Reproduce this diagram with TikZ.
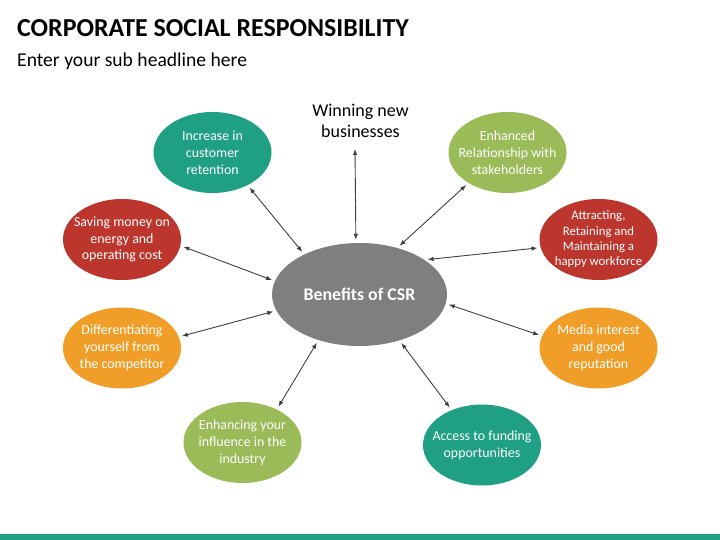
\documentclass[tikz,border=0pt]{standalone}
\usepackage{fontspec}
\setmainfont{Carlito}
\usetikzlibrary{arrows.meta,shapes.geometric}
\definecolor{cteal}{RGB}{31,160,132}
\definecolor{cred}{RGB}{188,54,46}
\definecolor{cgreen}{RGB}{155,187,89}
\definecolor{corange}{RGB}{241,158,41}
\definecolor{cgray}{RGB}{127,127,127}
\definecolor{cline}{RGB}{64,64,64}
\tikzset{
  bubble/.style={ellipse, draw=none, inner xsep=-25pt, inner ysep=-20pt, minimum width=118pt, minimum height=81pt,
    text=white, align=center, font=\fontsize{13.9}{16.8}\selectfont},
  hub/.style={ellipse, fill=cgray, inner xsep=-25pt, inner ysep=-20pt, minimum width=175pt, minimum height=103pt,
    text=white, font=\fontsize{17.8}{21}\selectfont\bfseries},
  conn/.style={draw=cline, line width=0.9pt, {Latex[length=6pt,width=4.5pt]}-{Latex[length=6pt,width=4.5pt]},
    shorten <=3pt, shorten >=3pt},
}
\begin{document}
\begin{tikzpicture}[x=1pt,y=-1pt]
\useasboundingbox (0,0) rectangle (720,540);
\fill[white] (0,0) rectangle (720,540);
\fill[cteal] (0,534) rectangle (720,540);
\node[anchor=base west, inner sep=0pt, font=\fontsize{25.9}{30}\selectfont\bfseries] (title) at (17,36.7) {CORPORATE SOCIAL RESPONSIBILITY};
\node[anchor=base west, inner sep=0pt, font=\fontsize{19.6}{23}\selectfont] (sub) at (17,66.5) {Enter your sub headline here};

\node[hub] (c) at (359.5,294.5) {Benefits of CSR};

\node[inner sep=0pt, align=center, font=\fontsize{18}{21}\selectfont] (w) at (360.5,121) {Winning new\\businesses};
\node[bubble, fill=cteal] (n1) at (212.5,152.5) {Increase in\\customer\\retention};
\node[bubble, fill=cgreen] (n2) at (507.5,152.5) {Enhanced\\Relationship with\\stakeholders};
\node[bubble, fill=cred] (n3) at (122,239.5) {Saving money on\\energy and\\operating cost};
\node[bubble, fill=cred, font=\fontsize{12.8}{15.4}\selectfont] (n4) at (598.5,239.5) {Attracting,\\Retaining and\\Maintaining a\\happy workforce};
\node[bubble, fill=corange] (n5) at (122,348) {Differentiating\\yourself from\\the competitor};
\node[bubble, fill=corange] (n6) at (598.5,348) {Media interest\\and good\\reputation};
\node[bubble, fill=cgreen] (n7) at (242.5,442.5) {Enhancing your\\influence in the\\industry};
\node[bubble, fill=cteal] (n8) at (482,445) {Access to funding\\opportunities};

\coordinate (wb) at ([xshift=-5.5pt,yshift=-8pt]w.south);
\draw[conn] (c.94.6) -- (wb);
\draw[conn] (c.144.2) -- (n1.-43.4);
\draw[conn] (c.51.7) -- (n2.218.4);
\draw[conn] (c.171.3) -- (n3.-6.2);
\draw[conn] (c.28.1) -- (n4.188.6);
\draw[conn] (c.191.7) -- (n5.11.7);
\draw[conn] (c.-6.8) -- (n6.168.8);
\draw[conn] (c.228.8) -- (n7.44.2);
\draw[conn] (c.311.8) -- (n8.131.8);
\end{tikzpicture}
\end{document}
